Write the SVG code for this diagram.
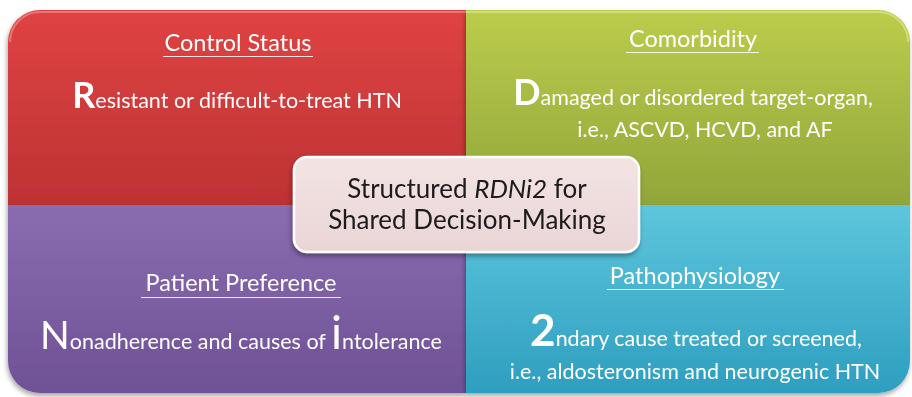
<svg xmlns="http://www.w3.org/2000/svg" width="912" height="397" viewBox="0 0 912 397">
  <style>
    .t { font-family: Lato, "Open Sans", "Liberation Sans", sans-serif; fill: #ffffff; }
    .head { font-size: 23.5px; }
    .rule { stroke: #ffffff; stroke-width: 1.2; opacity: 0.85; }
    .body { font-size: 21.5px; }
    .cap { font-size: 36px; font-weight: bold; }
    .capr { font-size: 39px; }
    .capi { font-size: 46px; }
    .capn { font-size: 44px; font-weight: bold; }
    .center { font-family: Lato, "Open Sans", "Liberation Sans", sans-serif; font-size: 26px; fill: #1a1a1a; }
  </style>
  <defs>
    <linearGradient id="gRed" x1="0" y1="0" x2="0" y2="1">
      <stop offset="0" stop-color="#e04343"/>
      <stop offset="1" stop-color="#bd3233"/>
    </linearGradient>
    <linearGradient id="gGreen" x1="0" y1="0" x2="0" y2="1">
      <stop offset="0" stop-color="#bccc4c"/>
      <stop offset="1" stop-color="#91a63a"/>
    </linearGradient>
    <linearGradient id="gPurple" x1="0" y1="0" x2="0" y2="1">
      <stop offset="0" stop-color="#8a6cb0"/>
      <stop offset="1" stop-color="#6f5196"/>
    </linearGradient>
    <linearGradient id="gBlue" x1="0" y1="0" x2="0" y2="1">
      <stop offset="0" stop-color="#5ec6dd"/>
      <stop offset="1" stop-color="#2e9ebf"/>
    </linearGradient>
    <linearGradient id="gCenter" x1="0" y1="0" x2="0" y2="1">
      <stop offset="0" stop-color="#f3e4e4"/>
      <stop offset="1" stop-color="#ead5d5"/>
    </linearGradient>
    <filter id="shadow" x="-10%" y="-10%" width="120%" height="130%">
      <feDropShadow dx="-1" dy="3" stdDeviation="2.5" flood-color="#000" flood-opacity="0.35"/>
    </filter>
  </defs>

  <rect width="912" height="397" fill="#ffffff"/>

  <!-- Control Status quadrant -->
  <g id="control-status" filter="url(#shadow)">
    <path d="M8,42 A32,32 0 0 1 40,10 H466 V205 H8 Z" fill="url(#gRed)"/>
    <path d="M10,42 A30,30 0 0 1 40,12 H466" fill="none" stroke="#f08a8a" stroke-width="2" opacity="0.7"/>
    <text class="t head" x="238" y="51" text-anchor="middle">Control Status</text>
    <line class="rule" x1="163" y1="56.5" x2="313" y2="56.5"/>
    <text class="t body" x="237" y="108" text-anchor="middle"><tspan class="cap">R</tspan>esistant or difficult-to-treat HTN</text>
  </g>

  <!-- Comorbidity quadrant -->
  <g id="comorbidity" filter="url(#shadow)">
    <path d="M466,10 H878 A32,32 0 0 1 910,42 V205 H466 Z" fill="url(#gGreen)"/>
    <path d="M466,12 H878 A30,30 0 0 1 908,42" fill="none" stroke="#dbe68f" stroke-width="2" opacity="0.7"/>
    <text class="t head" x="693" y="47" text-anchor="middle">Comorbidity</text>
    <line class="rule" x1="626" y1="52.5" x2="759" y2="52.5"/>
    <text class="t body" x="693" y="105" text-anchor="middle"><tspan class="cap">D</tspan>amaged or disordered target-organ,</text>
    <text class="t body" x="705" y="137" text-anchor="middle">i.e., ASCVD, HCVD, and AF</text>
  </g>

  <!-- Patient Preference quadrant -->
  <g id="patient-preference" filter="url(#shadow)">
    <path d="M8,205 H466 V393 H40 A32,32 0 0 1 8,361 Z" fill="url(#gPurple)"/>
    <text class="t head" x="241" y="291" text-anchor="middle">Patient Preference</text>
    <line class="rule" x1="141" y1="297.5" x2="341" y2="297.5"/>
    <text class="t body" x="241" y="349" text-anchor="middle"><tspan class="capr">N</tspan>onadherence and causes of <tspan class="capi">i</tspan>ntolerance</text>
  </g>

  <!-- Pathophysiology quadrant -->
  <g id="pathophysiology" filter="url(#shadow)">
    <path d="M466,205 H910 V361 A32,32 0 0 1 878,393 H466 Z" fill="url(#gBlue)"/>
    <text class="t head" x="695" y="284" text-anchor="middle">Pathophysiology</text>
    <line class="rule" x1="607" y1="289.5" x2="784" y2="289.5"/>
    <text class="t body" x="696" y="346" text-anchor="middle"><tspan class="capn">2</tspan>ndary cause treated or screened,</text>
    <text class="t body" x="695" y="379" text-anchor="middle">i.e., aldosteronism and neurogenic HTN</text>
  </g>

  <!-- Central label -->
  <g id="center-label" filter="url(#shadow)">
    <rect x="294" y="157" width="345" height="95" rx="13" fill="url(#gCenter)" stroke="#ffffff" stroke-width="2.5"/>
    <text class="center" x="467" y="198" text-anchor="middle">Structured <tspan font-style="italic">RDNi2</tspan> for</text>
    <text class="center" x="467" y="229" text-anchor="middle">Shared Decision-Making</text>
  </g>
</svg>
